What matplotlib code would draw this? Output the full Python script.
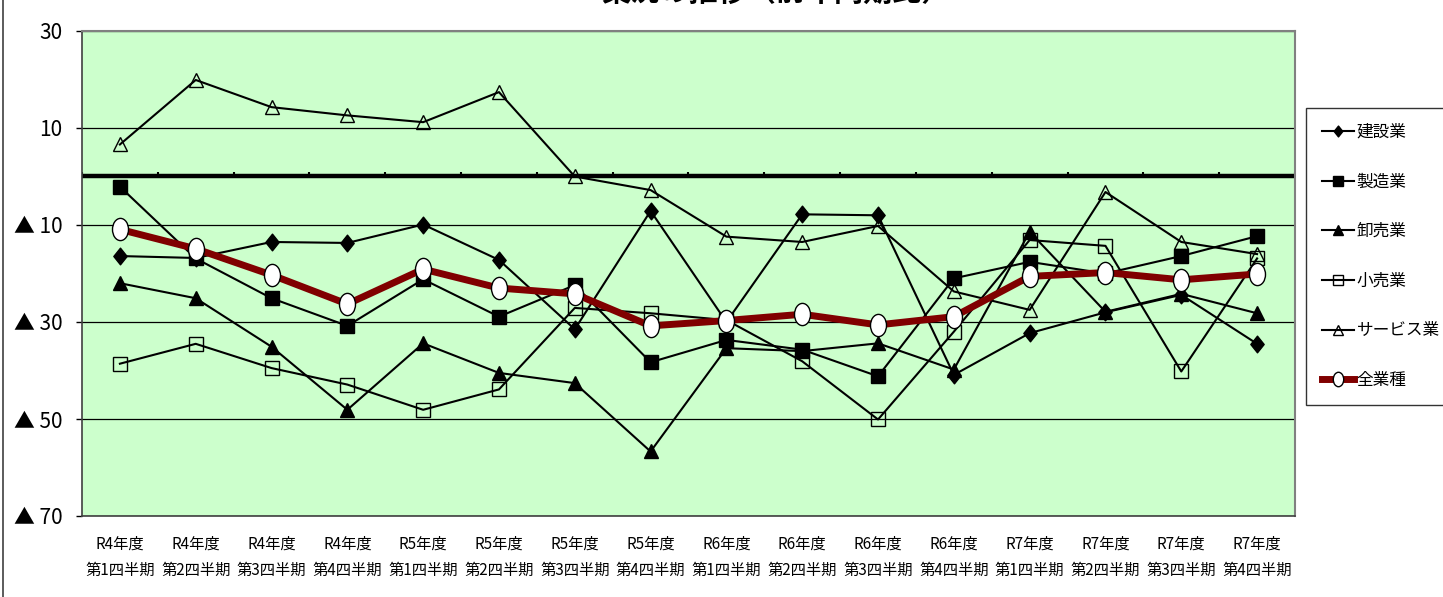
import numpy as np
import matplotlib
matplotlib.use('Agg')
import matplotlib.pyplot as plt
from matplotlib.path import Path
from matplotlib.transforms import Affine2D
from matplotlib.lines import Line2D

plt.rcParams['font.family'] = ['Noto Sans CJK JP', 'DejaVu Sans']

categories = ['R4年度\n第1四半期', 'R4年度\n第2四半期', 'R4年度\n第3四半期', 'R4年度\n第4四半期',
              'R5年度\n第1四半期', 'R5年度\n第2四半期', 'R5年度\n第3四半期', 'R5年度\n第4四半期',
              'R6年度\n第1四半期', 'R6年度\n第2四半期', 'R6年度\n第3四半期', 'R6年度\n第4四半期',
              'R7年度\n第1四半期', 'R7年度\n第2四半期', 'R7年度\n第3四半期', 'R7年度\n第4四半期']

kensetsu = [-16.4, -16.8, -13.5, -13.7, -9.9, -17.2, -31.5, -7.1, -30.0, -7.8, -8.0, -40.9, -32.3, -28.0, -24.4, -34.5]
seizo = [-2.1, -16.9, -25.1, -30.8, -21.2, -28.9, -22.4, -38.3, -33.7, -35.7, -41.2, -21.0, -17.6, -20.0, -16.4, -12.3]
oroshi = [-22.0, -25.1, -35.1, -48.1, -34.4, -40.5, -42.6, -56.7, -35.4, -36.0, -34.4, -39.8, -11.4, -27.9, -24.2, -28.2]
kouri = [-38.6, -34.5, -39.5, -42.9, -48.1, -43.9, -27.1, -28.2, -29.6, -38.1, -50.1, -32.0, -13.1, -14.3, -40.2, -16.9]
service = [6.6, 19.9, 14.3, 12.6, 11.2, 17.4, 0.0, -2.8, -12.4, -13.5, -10.2, -23.7, -27.5, -3.2, -13.5, -16.0]
zengyoshu = [-10.9, -14.9, -20.3, -26.3, -19.1, -23.0, -24.2, -30.8, -29.7, -28.4, -30.6, -28.9, -20.6, -19.8, -21.3, -20.1]

series_names = ['建設業', '製造業', '卸売業', '小売業', 'サービス業', '全業種']
ytick_values = [30, 10, -10, -30, -50, -70]
ytick_labels = ['30', '10', '▲ 10', '▲ 30', '▲ 50', '▲ 70']
title_text = '業況の推移（前年同期比）'

W, H = 1443, 597
fig = plt.figure(figsize=(W / 100, H / 100), dpi=100)
ax = fig.add_axes([82 / W, 1 - 516 / H, (1295 - 82) / W, (516 - 31) / H])
ax.set_facecolor('#CCFFCC')

x = np.arange(len(categories))

ellipse = Path.unit_circle().transformed(Affine2D().scale(0.72, 1.0))
diamond = Path([(0, 1), (0.8, 0), (0, -1), (-0.8, 0), (0, 1)], closed=True)

common = dict(color='black', lw=1.5, markeredgecolor='black', markeredgewidth=1.0)
ax.plot(x, kensetsu, marker=diamond, ms=12, markerfacecolor='black', label=series_names[0], zorder=3, **common)
ax.plot(x, seizo, marker='s', ms=10, markerfacecolor='black', label=series_names[1], zorder=3, **common)
ax.plot(x, oroshi, marker='^', ms=10, markerfacecolor='black', label=series_names[2], zorder=3, **common)
ax.plot(x, kouri, marker='s', ms=10, markerfacecolor='none', label=series_names[3], zorder=3, **common)
ax.plot(x, service, marker='^', ms=10, markerfacecolor='none', label=series_names[4], zorder=3, **common)
ax.plot(x, zengyoshu, color='#800000', lw=5, marker=ellipse, ms=16, markerfacecolor='white',
        markeredgecolor='black', markeredgewidth=1.0, label=series_names[5], zorder=4)

ax.set_xlim(-0.5, len(categories) - 0.5)
ax.set_ylim(-70, 30)

# gridlines and zero axis
for v in ytick_values:
    ax.axhline(v, color='black', lw=0.9, zorder=1)
ax.axhline(0, color='black', lw=3.2, zorder=2)
ax.vlines(np.arange(len(categories) + 1) - 0.5, 0, 0.9, color='black', lw=1.5, zorder=2)

ax.set_xticks(x)
ax.set_xticklabels(categories, fontsize=11, linespacing=1.75)
ax.tick_params(axis='x', length=0, pad=14)
ax.set_yticks(ytick_values)
ax.set_yticklabels(ytick_labels, fontsize=15)
ax.tick_params(axis='y', length=4, width=1, pad=10, direction='out')

for s in ['top', 'right']:
    ax.spines[s].set_color('#808080')
    ax.spines[s].set_linewidth(1.5)
for s in ['left', 'bottom']:
    ax.spines[s].set_color('#404040')
    ax.spines[s].set_linewidth(1.2)

fig.text(776 / W, 1 - 0.5 / H, title_text, ha='center', va='baseline', fontsize=21, fontweight='bold')

fig.add_artist(Line2D([3 / W, 3 / W], [0, 1], transform=fig.transFigure, color='#404040', lw=1.2))

leg = fig.legend(loc='upper left', bbox_to_anchor=(1306 / W, 1 - 108 / H), fontsize=12,
                 frameon=True, fancybox=False, edgecolor='black', borderaxespad=0,
                 borderpad=0.95, labelspacing=1.96, handlelength=1.9, handletextpad=0.2,
                 markerscale=0.65)
leg.get_frame().set_linewidth(1.0)

fig.savefig('out.png', dpi=100)
